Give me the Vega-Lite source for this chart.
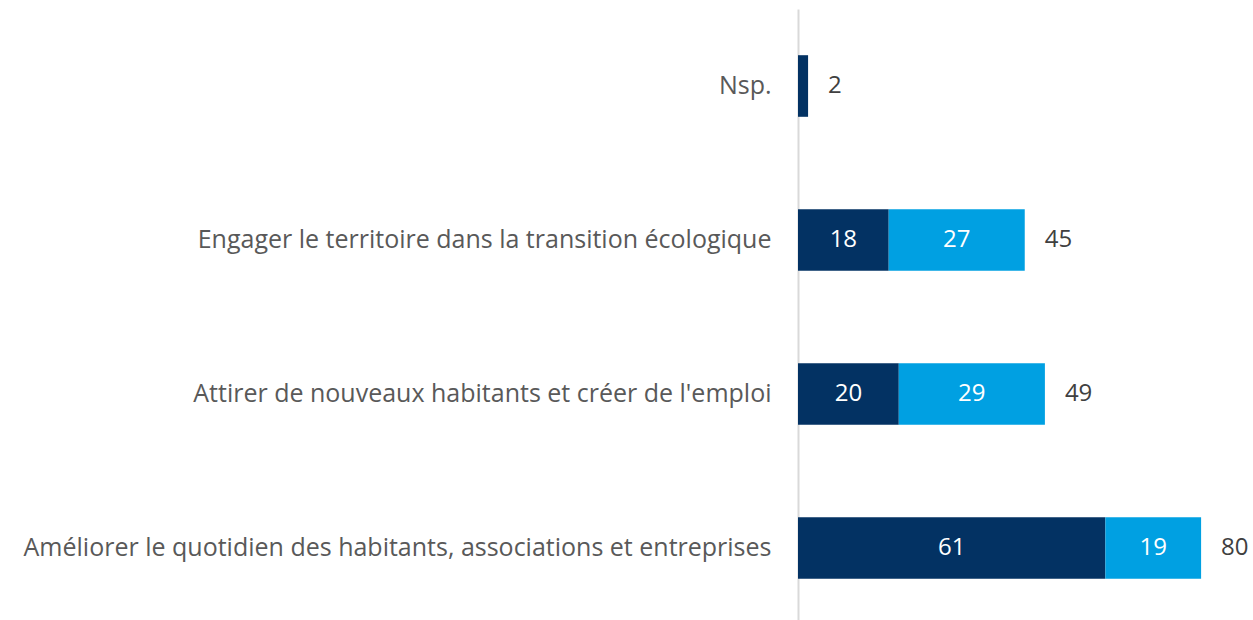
{
  "$schema": "https://vega.github.io/schema/vega-lite/v6.json",
  "autosize": "none",
  "width": 455,
  "height": 616,
  "padding": {"left": 798, "top": 9, "right": 0, "bottom": 0},
  "background": "white",
  "config": {"view": {"stroke": null}, "font": "Open Sans"},
  "data": {
    "values": [
      {"item": "Nsp.", "rang": "Premier", "ordre": 1, "valeur": 2},
      {"item": "Engager le territoire dans la transition écologique", "rang": "Premier", "ordre": 1, "valeur": 18},
      {"item": "Engager le territoire dans la transition écologique", "rang": "Second", "ordre": 2, "valeur": 27},
      {"item": "Attirer de nouveaux habitants et créer de l'emploi", "rang": "Premier", "ordre": 1, "valeur": 20},
      {"item": "Attirer de nouveaux habitants et créer de l'emploi", "rang": "Second", "ordre": 2, "valeur": 29},
      {"item": "Améliorer le quotidien des habitants, associations et entreprises", "rang": "Premier", "ordre": 1, "valeur": 61},
      {"item": "Améliorer le quotidien des habitants, associations et entreprises", "rang": "Second", "ordre": 2, "valeur": 19}
    ]
  },
  "transform": [
    {"stack": "valeur", "groupby": ["item"], "sort": [{"field": "ordre", "order": "ascending"}], "as": ["x0", "x1"]},
    {"calculate": "(datum.x0 + datum.x1) / 2", "as": "xmid"}
  ],
  "encoding": {
    "y": {
      "field": "item",
      "type": "nominal",
      "sort": [
        "Nsp.",
        "Engager le territoire dans la transition écologique",
        "Attirer de nouveaux habitants et créer de l'emploi",
        "Améliorer le quotidien des habitants, associations et entreprises"
      ],
      "scale": {"paddingInner": 0.6, "paddingOuter": 0.3},
      "axis": {
        "title": null,
        "ticks": false,
        "domainColor": "#d9d9d9",
        "domainWidth": 2,
        "labelFontSize": 25,
        "labelColor": "#595959",
        "labelPadding": 27,
        "labelLimit": 0,
        "labelFont": "Open Sans"
      }
    }
  },
  "layer": [
    {
      "mark": {"type": "bar", "stroke": null},
      "encoding": {
        "x": {"field": "x0", "type": "quantitative", "scale": {"domain": [0, 90.3], "nice": false}, "axis": null},
        "x2": {"field": "x1"},
        "color": {
          "field": "rang",
          "type": "nominal",
          "scale": {"domain": ["Premier", "Second"], "range": ["#033263", "#00A0E2"]},
          "legend": null
        }
      }
    },
    {
      "transform": [{"filter": "datum.valeur >= 5"}],
      "mark": {"type": "text", "color": "white", "fontSize": 24, "align": "center", "baseline": "middle"},
      "encoding": {
        "x": {"field": "xmid", "type": "quantitative"},
        "text": {"field": "valeur", "type": "quantitative"}
      }
    },
    {
      "transform": [{"aggregate": [{"op": "sum", "field": "valeur", "as": "total"}], "groupby": ["item"]}],
      "mark": {"type": "text", "color": "#404040", "fontSize": 24, "align": "left", "baseline": "middle", "dx": 20},
      "encoding": {
        "x": {"field": "total", "type": "quantitative"},
        "text": {"field": "total", "type": "quantitative"}
      }
    }
  ]
}
